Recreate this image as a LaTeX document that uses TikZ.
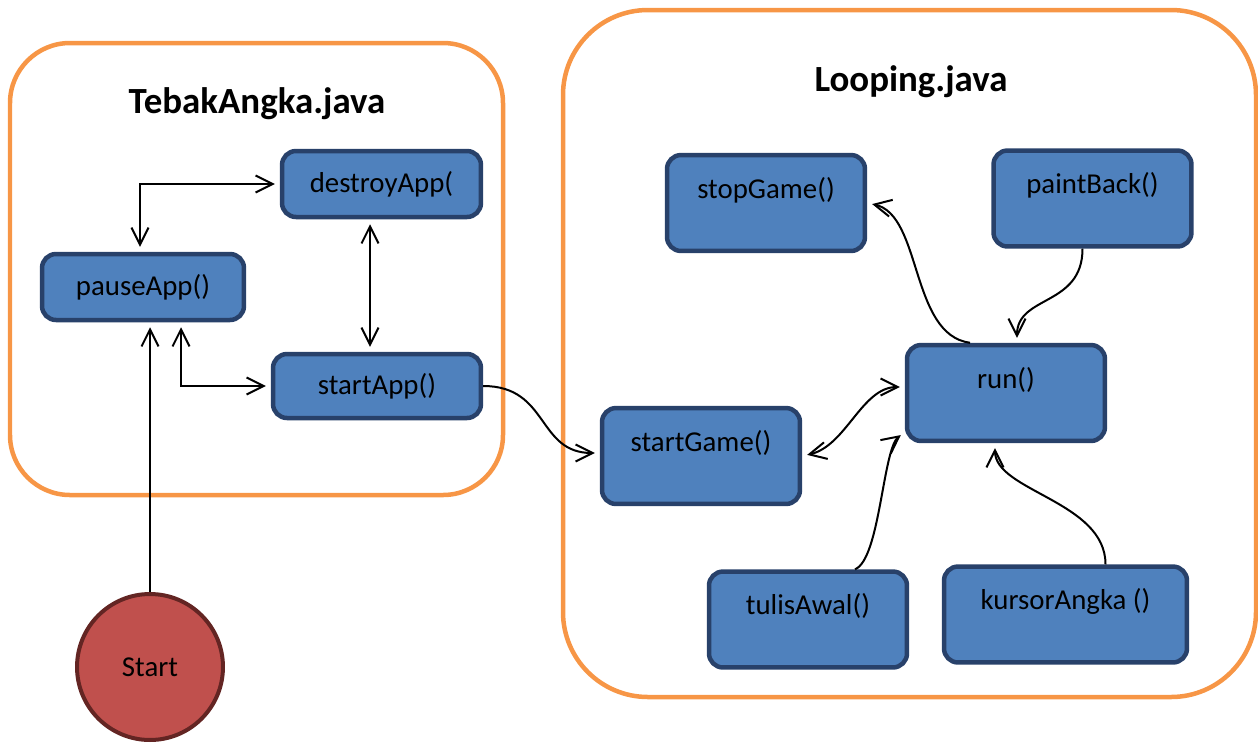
\documentclass[tikz,border=0pt]{standalone}
\usepackage{fontspec}
\setmainfont{Carlito}
\usetikzlibrary{arrows.meta,calc}
\definecolor{boxfill}{HTML}{4F81BD}
\definecolor{boxedge}{HTML}{28416A}
\definecolor{frameorange}{HTML}{F79646}
\definecolor{startfill}{HTML}{C0504D}
\definecolor{startedge}{HTML}{632523}
\begin{document}
\begin{tikzpicture}[x=0.02cm,y=-0.02cm,
  >={Straight Barb[length=3.4mm,width=3.4mm]},
  frame/.style={draw=frameorange,line width=0.09cm},
  title/.style={anchor=base,font=\fontsize{21}{25}\selectfont\bfseries},
  box/.style={draw=boxedge,fill=boxfill,line width=0.09cm,rounded corners=0.28cm,
    inner sep=0pt,font=\fontsize{16.4}{19}\selectfont},
  midbox/.style={box,align=center},
  topbox/.style={box,minimum width=3.96cm,text height=24.5pt,text depth=30.1pt},
  startnode/.style={circle,draw=startedge,fill=startfill,line width=0.08cm,
    minimum size=2.92cm,inner sep=0pt,font=\fontsize{16.4}{19}\selectfont},
  conn/.style={draw=black,line width=0.04cm,shorten >=0.1cm,shorten <=0.1cm},
  plain/.style={shorten <=0pt}]
\useasboundingbox (0,0) rectangle (1258,755);

% the two class frames
\draw[frame,rounded corners=1.2cm] (10,43) rectangle (503,495);
\draw[frame,rounded corners=1.7cm] (563,10) rectangle (1256,697);
\node[title] (t1) at (257,113) {TebakAngka.java};
\node[title] (t2) at (911,91) {Looping.java};

% TebakAngka methods
\node[midbox,minimum width=3.98cm,minimum height=1.32cm] (destroy) at (381.5,184) {destroyApp(};
\node[midbox,minimum width=4.04cm,minimum height=1.32cm] (pause) at (143,287) {pauseApp()};
\node[midbox,minimum width=4.16cm,minimum height=1.28cm] (startApp) at (377,386) {startApp()};

% Looping methods
\node[topbox] (stopGame) at (766,203) {stopGame()};
\node[topbox] (paintBack) at (1092.5,198.5) {paintBack()};
\node[topbox] (run) at (1006,393) {run()};
\node[topbox] (startGame) at (701,456) {startGame()};
\node[topbox] (tulisAwal) at (808,619.5) {tulisAwal()};
\node[topbox,minimum width=4.86cm] (kursor) at (1065.5,614.5) {kursorAngka ()};

% entry point
\node[startnode] (start) at (150,667) {Start};

% connectors inside TebakAngka
\draw[conn,<->] (destroy.west) -| ($(pause.north)+(-3,0)$);
\path ($(startApp.north)+(-7,0)$) coordinate (satop);
\draw[conn,<->] (satop) -- (satop |- destroy.south);
\draw[conn,<->] ($(pause.south)+(38,0)$) |- (startApp.west);
\draw[conn,plain,->] (start.north) -- (start.north |- pause.south);

% connectors into and inside Looping
\draw[conn,plain,->] (startApp.east) .. controls +(66,0) and +(-63,0) .. ($(startGame.west)+(0,-3)$);
\draw[conn,<->] (startGame.east) .. controls +(44,-10) and +(-43,0) .. ($(run.west)+(0,-6)$);
\draw[conn,plain,->] ($(run.north)+(-36,0)$) .. controls +(-60,-8) and +(55,12) .. (stopGame.east);
\draw[conn,plain,->] ($(paintBack.south)+(-10,0)$) .. controls +(0,58) and +(0,-48) .. ($(run.north)+(11,0)$);
\draw[conn,plain,->] ($(tulisAwal.north)+(47,0)$) .. controls +(25,-10) and +(-22,17) .. ($(run.west)+(0,39)$);
\draw[conn,plain,->] ($(kursor.north)+(40,0)$) .. controls +(0,-63) and +(0,48) .. ($(run.south)+(-11,0)$);
\end{tikzpicture}
\end{document}
